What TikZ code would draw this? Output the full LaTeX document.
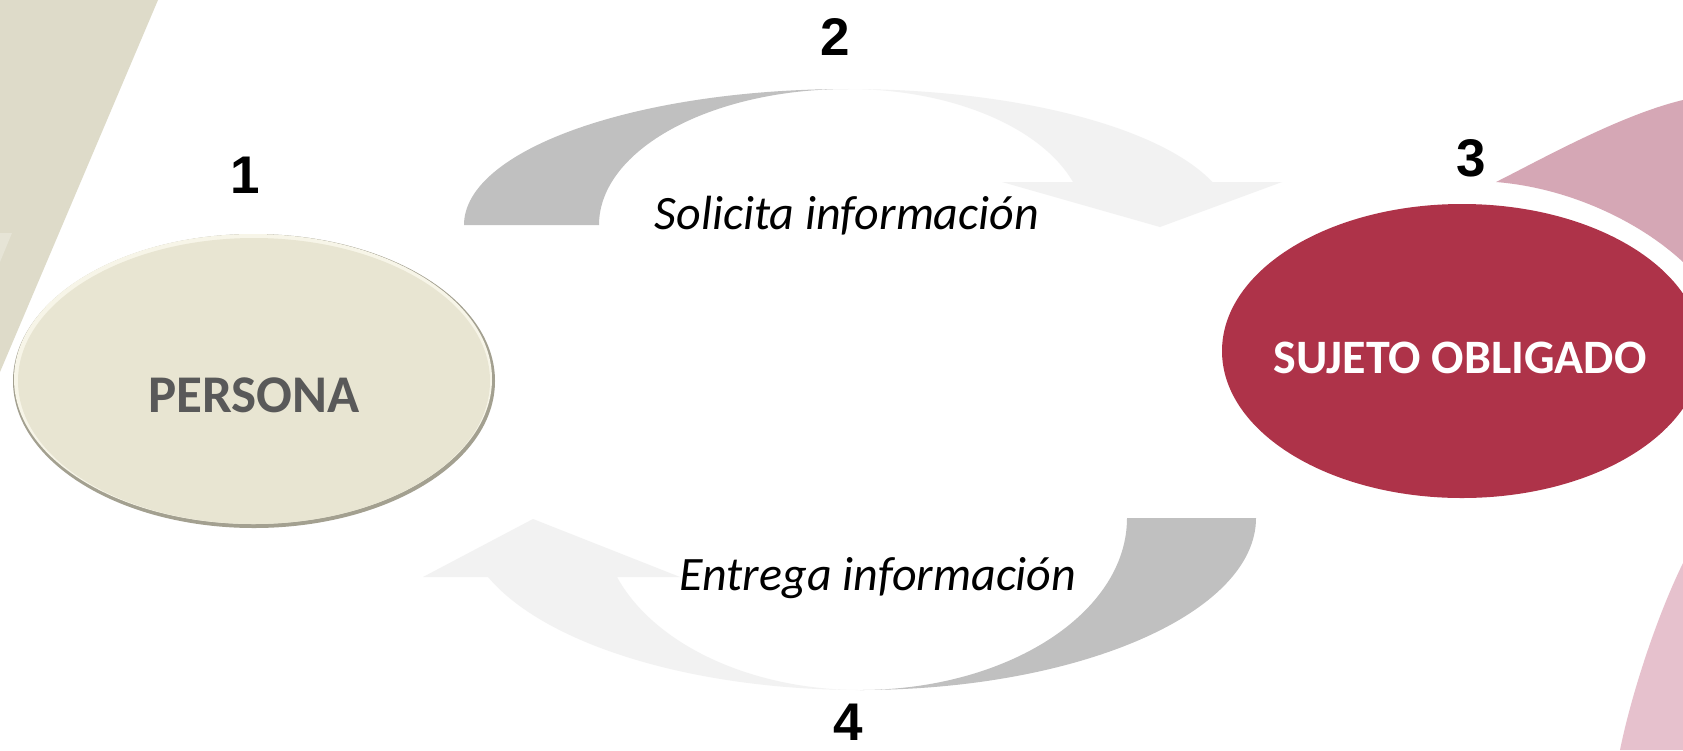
\documentclass[tikz,border=0pt]{standalone}
\usepackage{fontspec}
\setmainfont{Carlito}
\newfontfamily\numfont{Liberation Sans}
\usetikzlibrary{shapes.geometric}
\definecolor{beigeband}{HTML}{DEDBC9}
\definecolor{beigestrip}{HTML}{E6E4D6}
\definecolor{personaface}{HTML}{E8E5D2}
\definecolor{personarim}{HTML}{F7F5E8}
\definecolor{personaedge}{HTML}{A3A090}
\definecolor{personatext}{HTML}{595959}
\definecolor{sujetofill}{HTML}{AE3349}
\definecolor{pinkup}{HTML}{D5A7B5}
\definecolor{pinklow}{HTML}{E6C1CD}
\definecolor{arrowdark}{HTML}{C0C0C0}
\definecolor{arrowlight}{HTML}{F2F2F2}
\tikzset{
  numlabel/.style={font=\numfont\bfseries\fontsize{53}{60}\selectfont, anchor=base, inner sep=0},
  flowlabel/.style={font=\itshape\fontsize{48}{56}\selectfont, anchor=base, inner sep=0},
  boxtext/.style={font=\bfseries\fontsize{#1}{#1}\selectfont, anchor=base, inner sep=0},
}
\begin{document}
\begin{tikzpicture}[x=1pt,y=-1pt]
\useasboundingbox (0,0) rectangle (1683,750);
\fill[white] (0,0) rectangle (1683,750);
% background shapes
\fill[beigeband] (0,0) -- (158,0) -- (0,372) -- cycle;
\fill[beigestrip] (0,233) -- (12,233) -- (0,262) -- cycle;
\fill[pinkup] (1496,182) .. controls (1540,160) and (1620,115) .. (1683,100)
  -- (1683,262) .. controls (1640,222) and (1570,188) .. (1496,182) -- cycle;
\fill[pinklow] (1620,750) .. controls (1630,700) and (1655,620) .. (1683,563)
  -- (1683,750) -- cycle;
% top curved arrow
\fill[arrowdark] (464,225) arc[start angle=180, end angle=270, x radius=384, y radius=136]
  arc[start angle=270, end angle=180, x radius=249, y radius=136] -- cycle;
\fill[arrowlight] (848,89) arc[start angle=270, end angle=341.57, x radius=384, y radius=136]
  -- (1282,182) -- (1160,227) -- (1002,182) -- (1073,182)
  arc[start angle=341.57, end angle=270, x radius=237, y radius=136] -- cycle;
% bottom curved arrow
\fill[arrowdark] (1256,518) arc[start angle=0, end angle=90, x radius=396, y radius=172]
  arc[start angle=90, end angle=0, x radius=267, y radius=172] -- cycle;
\fill[arrowlight] (860,690) arc[start angle=90, end angle=159.94, x radius=396, y radius=172]
  -- (423,577) -- (533,519) -- (680,577) -- (617,577)
  arc[start angle=159.94, end angle=90, x radius=259, y radius=172] -- cycle;
% persona ellipse with bevel
\fill[personaedge] (254,381) ellipse (241 and 147);
\fill[personarim] (253,379) ellipse (239 and 145);
\node[ellipse, minimum width=472pt, minimum height=286pt, inner sep=0, fill=personaface] (persona) at (254,381) {};
\node[boxtext=53, text=personatext] (personatxt) at (254,412) {PERSONA};
% sujeto obligado ellipse
\node[ellipse, minimum width=480pt, minimum height=294pt, inner sep=0, fill=sujetofill] (sujeto) at (1462,351) {};
\node[boxtext=48, text=white] (sujetotxt) at (1460,373) {SUJETO OBLIGADO};
% labels
\node[flowlabel] (solicita) at (847,229) {Solicita información};
\node[flowlabel] (entrega) at (878,590) {Entrega información};
\node[numlabel] (n1) at (245,193) {1};
\node[numlabel] (n2) at (835,55) {2};
\node[numlabel] (n3) at (1471,176) {3};
\node[numlabel] (n4) at (848,740) {4};
\end{tikzpicture}
\end{document}
